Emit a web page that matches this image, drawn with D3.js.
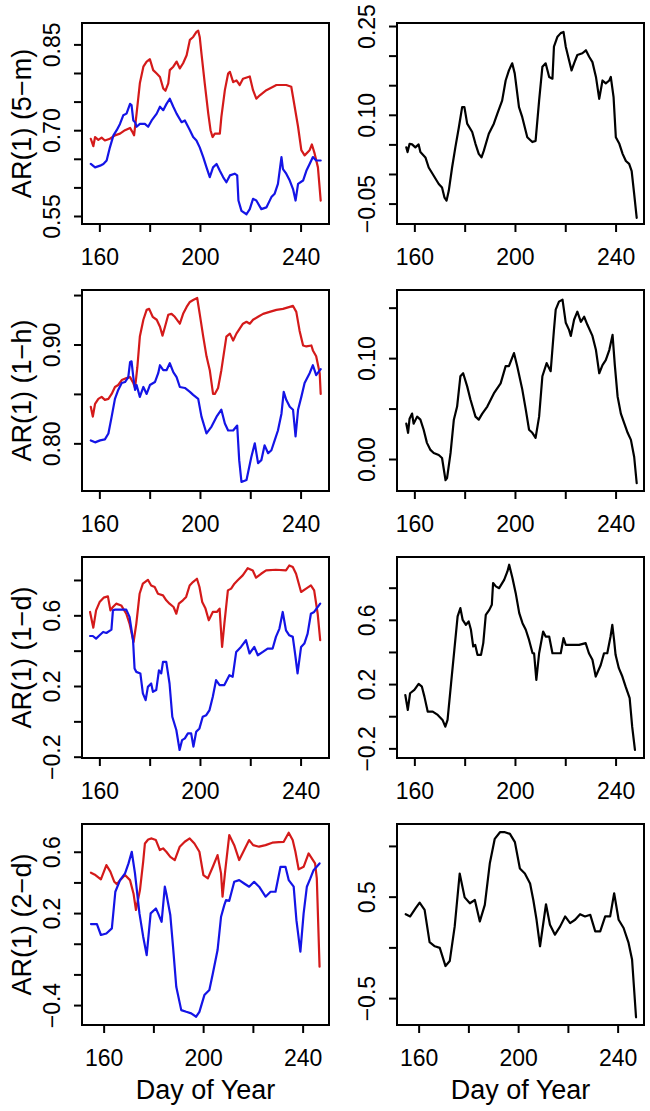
<!DOCTYPE html>
<html><head><meta charset="utf-8">
<script src="https://cdn.jsdelivr.net/npm/d3@7"></script>
<style>
body{margin:0;background:#fff;}
svg{display:block;}
text{font-family:"Liberation Sans",Arial,Helvetica,sans-serif;fill:#000;}
</style>
</head><body>
<svg id="chart" width="650" height="1111"></svg>
<script>
// ---------- DATA (day of year, AR(1) value) ----------
const xTicks = [160, 180, 200, 220, 240];
const xTickLabels = [160, 200, 240];

const ar5mRed = [[156.6,0.685],[157.6,0.672],[158.3,0.688],[159.6,0.683],[160.9,0.687],[162.2,0.682],[164.2,0.685],[166.2,0.691],[168.2,0.694],[170.2,0.700],[172.2,0.704],[173.0,0.698],[173.8,0.691],[174.8,0.729],[176.1,0.782],[177.5,0.811],[178.8,0.820],[180.1,0.824],[181.4,0.805],[182.8,0.799],[184.1,0.793],[185.4,0.773],[186.3,0.769],[187.4,0.782],[188.0,0.805],[189.4,0.811],[190.7,0.820],[192.0,0.808],[193.3,0.817],[194.7,0.831],[196.0,0.858],[197.3,0.863],[198.6,0.872],[199.3,0.874],[199.9,0.863],[200.6,0.834],[201.9,0.782],[203.3,0.729],[204.2,0.700],[205.0,0.688],[205.9,0.694],[207.9,0.694],[208.5,0.723],[209.9,0.770],[211.2,0.799],[211.9,0.802],[213.2,0.784],[214.5,0.787],[215.8,0.779],[217.1,0.790],[219.8,0.794],[221.1,0.770],[222.4,0.755],[223.8,0.761],[226.4,0.770],[230.4,0.779],[234.3,0.779],[236.3,0.776],[237.0,0.758],[239.0,0.706],[240.3,0.665],[241.6,0.656],[243.6,0.665],[244.5,0.675],[245.6,0.659],[246.9,0.635],[248.0,0.577]];
const ar5mBlue = [[156.6,0.641],[158.3,0.635],[160.3,0.638],[161.6,0.641],[162.9,0.647],[164.2,0.670],[165.6,0.691],[166.9,0.700],[168.2,0.711],[169.5,0.726],[170.8,0.729],[172.2,0.746],[172.8,0.744],[173.5,0.717],[174.2,0.714],[174.8,0.706],[176.1,0.711],[178.1,0.711],[179.4,0.706],[180.8,0.717],[182.8,0.729],[184.1,0.741],[185.4,0.735],[186.7,0.746],[188.0,0.755],[189.4,0.741],[190.7,0.729],[192.7,0.714],[194.0,0.717],[196.0,0.700],[197.3,0.688],[198.6,0.682],[199.9,0.670],[201.3,0.653],[202.6,0.635],[203.9,0.618],[205.2,0.635],[206.6,0.641],[207.9,0.629],[209.2,0.618],[210.5,0.609],[211.9,0.621],[213.8,0.624],[214.8,0.621],[215.3,0.577],[216.5,0.559],[218.5,0.553],[219.8,0.562],[221.1,0.580],[222.4,0.577],[224.4,0.562],[226.4,0.565],[228.4,0.583],[229.7,0.589],[231.0,0.606],[232.4,0.653],[233.0,0.632],[234.3,0.624],[235.7,0.612],[237.0,0.597],[238.0,0.577],[239.0,0.606],[241.0,0.612],[242.3,0.629],[243.6,0.641],[244.9,0.653],[246.2,0.647],[248.0,0.647]];
const ar5mDiff = [[156.8,0.045],[157.3,0.037],[158.1,0.051],[159.1,0.050],[160.4,0.045],[161.7,0.050],[162.4,0.037],[164.4,0.028],[165.7,0.011],[167.7,-0.003],[169.7,-0.017],[171.0,-0.023],[172.0,-0.040],[172.8,-0.045],[173.7,-0.028],[175.0,0.011],[176.3,0.045],[177.7,0.079],[179.0,0.113],[179.9,0.113],[181.0,0.085],[183.0,0.071],[184.3,0.051],[185.6,0.034],[186.7,0.028],[187.6,0.039],[189.6,0.068],[191.6,0.085],[193.0,0.102],[194.9,0.124],[196.3,0.158],[197.6,0.175],[198.9,0.187],[199.9,0.170],[201.6,0.113],[202.9,0.096],[204.9,0.062],[206.9,0.054],[208.2,0.056],[209.6,0.124],[210.9,0.181],[212.2,0.187],[213.6,0.164],[214.9,0.161],[215.5,0.215],[216.9,0.232],[218.2,0.238],[219.3,0.240],[220.2,0.215],[221.5,0.192],[222.5,0.175],[223.5,0.187],[224.8,0.201],[226.8,0.204],[228.2,0.209],[229.5,0.198],[230.8,0.189],[232.2,0.164],[233.5,0.127],[234.8,0.158],[236.1,0.153],[237.5,0.158],[238.1,0.164],[239.2,0.130],[240.1,0.062],[241.5,0.051],[242.8,0.034],[244.1,0.022],[245.4,0.017],[246.4,0.005],[247.4,-0.034],[248.4,-0.074]];

const ar1hRed = [[156.6,0.837],[157.4,0.827],[158.3,0.840],[159.6,0.845],[160.9,0.847],[162.2,0.844],[163.6,0.845],[164.9,0.850],[166.2,0.857],[167.5,0.859],[168.9,0.864],[170.8,0.866],[172.2,0.867],[173.5,0.861],[174.2,0.856],[175.1,0.877],[176.1,0.908],[177.5,0.925],[178.8,0.935],[179.8,0.936],[181.2,0.928],[182.8,0.925],[184.1,0.918],[185.1,0.909],[186.1,0.918],[187.4,0.930],[188.7,0.931],[190.0,0.928],[192.0,0.921],[193.3,0.931],[194.7,0.938],[196.0,0.943],[197.3,0.945],[198.9,0.947],[199.9,0.931],[201.3,0.908],[202.6,0.888],[203.9,0.874],[205.2,0.850],[205.9,0.850],[207.2,0.856],[208.5,0.874],[210.5,0.908],[211.9,0.911],[213.2,0.904],[214.5,0.911],[215.8,0.916],[217.1,0.921],[218.5,0.923],[219.8,0.921],[221.1,0.925],[223.1,0.928],[225.1,0.931],[227.7,0.933],[230.4,0.935],[233.0,0.936],[235.7,0.938],[237.0,0.939],[238.3,0.933],[239.6,0.914],[241.0,0.899],[242.3,0.898],[244.3,0.899],[244.9,0.894],[246.2,0.888],[247.6,0.871],[248.0,0.850]];
const ar1hBlue = [[156.6,0.803],[158.3,0.801],[160.3,0.803],[162.2,0.804],[163.6,0.810],[164.9,0.827],[166.2,0.845],[167.5,0.854],[168.9,0.861],[170.2,0.862],[171.5,0.867],[172.2,0.882],[172.8,0.883],[173.5,0.867],[174.2,0.854],[174.8,0.859],[176.1,0.847],[177.5,0.857],[178.8,0.850],[180.1,0.859],[182.1,0.862],[183.4,0.871],[184.1,0.879],[185.4,0.874],[186.7,0.874],[188.0,0.881],[189.4,0.872],[190.7,0.867],[192.0,0.857],[194.0,0.856],[196.0,0.852],[197.3,0.849],[199.3,0.845],[200.6,0.827],[202.6,0.810],[204.6,0.817],[206.6,0.827],[208.5,0.834],[209.9,0.820],[211.2,0.813],[213.2,0.813],[214.8,0.818],[215.6,0.783],[216.5,0.761],[218.5,0.763],[220.4,0.786],[221.8,0.800],[223.1,0.780],[224.4,0.783],[225.7,0.798],[227.1,0.790],[228.4,0.793],[229.7,0.803],[231.0,0.813],[232.4,0.830],[233.3,0.852],[234.3,0.844],[235.7,0.837],[237.0,0.834],[238.0,0.807],[239.0,0.834],[240.3,0.847],[241.6,0.861],[243.6,0.871],[244.9,0.879],[246.2,0.869],[248.0,0.875]];
const ar1hDiff = [[156.8,0.035],[157.5,0.026],[158.1,0.040],[159.1,0.045],[159.7,0.035],[161.1,0.042],[162.4,0.039],[163.7,0.029],[165.0,0.016],[166.4,0.009],[167.7,0.006],[169.7,0.004],[171.0,0.001],[172.4,-0.021],[173.0,-0.019],[174.4,0.006],[175.7,0.039],[177.0,0.052],[178.3,0.082],[179.4,0.085],[181.0,0.072],[182.3,0.059],[184.3,0.042],[185.6,0.039],[187.0,0.045],[189.0,0.052],[191.6,0.065],[194.3,0.075],[196.3,0.092],[197.6,0.092],[199.6,0.105],[200.9,0.092],[202.9,0.069],[204.3,0.049],[205.6,0.029],[206.9,0.026],[208.2,0.021],[209.6,0.042],[210.9,0.082],[212.6,0.095],[214.2,0.087],[215.5,0.128],[216.2,0.148],[217.5,0.156],[218.9,0.158],[220.2,0.135],[221.5,0.128],[222.2,0.122],[223.5,0.138],[224.8,0.146],[226.2,0.136],[227.5,0.141],[228.8,0.133],[230.8,0.122],[232.2,0.108],[233.5,0.085],[234.8,0.093],[236.1,0.098],[237.5,0.108],[238.8,0.123],[239.7,0.093],[240.8,0.062],[242.1,0.045],[243.5,0.035],[244.8,0.026],[246.1,0.019],[247.4,0.002],[248.4,-0.024]];

const ar1dRed = [[156.3,0.619],[157.6,0.530],[158.7,0.628],[160.1,0.675],[161.7,0.700],[163.4,0.707],[164.4,0.628],[165.4,0.647],[166.7,0.666],[168.7,0.656],[170.7,0.609],[172.0,0.553],[173.6,0.449],[174.7,0.553],[176.0,0.722],[177.3,0.779],[179.3,0.801],[180.6,0.769],[182.0,0.760],[183.3,0.722],[185.3,0.713],[186.6,0.685],[187.9,0.666],[189.5,0.647],[190.6,0.609],[191.6,0.666],[193.2,0.685],[194.5,0.704],[195.9,0.769],[197.2,0.788],[198.8,0.807],[199.8,0.760],[200.9,0.675],[202.2,0.638],[203.5,0.572],[205.1,0.619],[206.7,0.619],[207.8,0.638],[208.8,0.421],[209.7,0.553],[211.1,0.741],[212.4,0.751],[213.7,0.779],[215.0,0.798],[217.0,0.826],[219.0,0.867],[221.0,0.854],[222.3,0.813],[224.3,0.835],[226.3,0.854],[230.2,0.858],[234.2,0.854],[235.5,0.882],[236.9,0.873],[238.2,0.835],[240.2,0.732],[242.2,0.751],[244.1,0.769],[245.4,0.741],[246.8,0.609],[247.8,0.459]];
const ar1dBlue = [[156.3,0.483],[157.4,0.483],[158.7,0.468],[160.1,0.487],[161.5,0.506],[162.8,0.500],[164.8,0.519],[165.4,0.628],[166.1,0.632],[168.1,0.632],[170.7,0.632],[172.0,0.591],[173.4,0.459],[174.0,0.299],[174.7,0.280],[176.3,0.271],[177.3,0.158],[178.4,0.120],[179.3,0.195],[180.6,0.214],[181.3,0.167],[182.6,0.177],[183.7,0.289],[184.6,0.271],[185.3,0.337],[186.6,0.337],[187.9,0.214],[189.0,0.026],[190.6,-0.049],[191.9,-0.162],[192.9,-0.106],[194.0,-0.096],[195.2,-0.068],[196.5,-0.068],[197.4,-0.143],[198.5,-0.059],[199.8,-0.040],[201.1,0.026],[202.5,0.035],[203.8,0.064],[205.1,0.139],[206.4,0.233],[207.8,0.205],[209.7,0.205],[211.7,0.261],[213.0,0.252],[214.4,0.393],[216.3,0.421],[218.3,0.459],[219.7,0.384],[221.6,0.421],[223.0,0.374],[225.0,0.393],[226.9,0.412],[228.9,0.412],[230.2,0.478],[231.6,0.525],[232.9,0.619],[234.2,0.515],[235.5,0.487],[236.9,0.478],[237.9,0.374],[238.8,0.271],[240.2,0.421],[241.5,0.440],[242.8,0.496],[244.1,0.609],[245.4,0.619],[247.8,0.666]];
const ar1dDiff = [[156.4,0.132],[157.4,0.039],[158.3,0.143],[160.0,0.164],[161.7,0.201],[163.0,0.184],[164.0,0.122],[165.3,0.029],[167.3,0.029],[169.3,0.008],[171.2,-0.023],[172.3,-0.065],[173.2,-0.023],[174.6,0.205],[175.9,0.413],[177.2,0.621],[178.3,0.673],[179.2,0.600],[180.5,0.569],[181.6,0.590],[182.5,0.538],[183.4,0.434],[184.2,0.444],[185.1,0.382],[186.5,0.382],[187.4,0.455],[188.4,0.631],[189.8,0.662],[190.8,0.694],[191.3,0.829],[192.4,0.808],[193.7,0.797],[195.7,0.849],[197.0,0.901],[197.7,0.943],[199.0,0.860],[200.3,0.766],[201.7,0.642],[203.0,0.579],[204.3,0.538],[205.6,0.475],[207.0,0.392],[207.6,0.392],[208.5,0.226],[209.6,0.392],[211.2,0.527],[212.2,0.496],[213.6,0.496],[214.9,0.392],[216.5,0.392],[218.2,0.392],[219.3,0.486],[220.2,0.444],[222.8,0.444],[225.5,0.444],[228.1,0.455],[229.4,0.392],[230.8,0.351],[232.1,0.247],[234.1,0.319],[235.4,0.392],[236.7,0.392],[238.0,0.496],[238.7,0.569],[239.4,0.475],[240.0,0.382],[241.3,0.299],[242.7,0.247],[244.0,0.184],[245.6,0.112],[246.6,-0.065],[247.7,-0.210]];

const ar2dRed = [[154.9,0.463],[156.7,0.448],[158.9,0.420],[161.1,0.513],[162.7,0.470],[164.3,0.404],[165.3,0.389],[166.6,0.415],[168.6,0.448],[170.6,0.415],[172.0,0.328],[173.0,0.220],[174.6,0.350],[175.9,0.535],[176.6,0.654],[177.9,0.680],[179.3,0.687],[181.0,0.676],[182.6,0.611],[183.9,0.622],[185.2,0.600],[186.8,0.567],[188.6,0.546],[190.6,0.633],[192.6,0.665],[194.6,0.687],[196.5,0.654],[198.5,0.600],[200.1,0.448],[201.9,0.426],[203.9,0.502],[205.8,0.578],[207.2,0.459],[207.8,0.307],[208.9,0.480],[210.5,0.709],[212.5,0.643],[214.5,0.546],[216.5,0.611],[218.5,0.676],[220.1,0.643],[222.5,0.633],[225.1,0.643],[227.8,0.659],[230.4,0.663],[232.4,0.665],[234.4,0.724],[236.0,0.676],[237.1,0.600],[238.4,0.485],[240.4,0.502],[242.4,0.589],[243.7,0.557],[245.0,0.524],[245.7,0.426],[246.8,-0.150]];
const ar2dBlue = [[154.9,0.128],[157.3,0.128],[158.9,0.057],[161.1,0.067],[163.3,0.100],[164.7,0.339],[166.6,0.415],[168.6,0.459],[170.0,0.524],[171.3,0.600],[172.6,0.459],[174.4,0.198],[175.9,0.046],[177.3,-0.074],[178.9,0.198],[181.0,0.230],[181.9,0.198],[183.3,0.143],[184.6,0.372],[185.2,0.328],[186.8,0.187],[187.9,-0.020],[189.2,-0.281],[191.2,-0.433],[193.2,-0.444],[195.2,-0.454],[197.2,-0.476],[198.5,-0.444],[200.5,-0.335],[202.5,-0.302],[203.9,-0.194],[205.8,-0.041],[207.2,0.176],[208.5,0.252],[209.2,0.285],[210.5,0.280],[212.5,0.404],[214.5,0.415],[216.5,0.393],[218.5,0.372],[220.5,0.404],[222.5,0.372],[225.1,0.307],[227.1,0.339],[229.1,0.339],[231.1,0.502],[233.1,0.502],[234.4,0.415],[236.4,0.372],[237.5,0.154],[239.1,-0.052],[240.4,0.198],[241.7,0.372],[243.1,0.426],[244.4,0.480],[246.8,0.524]];
const ar2dDiff = [[154.8,0.327],[156.6,0.305],[158.8,0.386],[160.4,0.441],[162.4,0.370],[164.4,0.051],[166.5,0.011],[168.5,-0.005],[170.8,-0.184],[172.5,-0.135],[174.5,0.207],[176.5,0.728],[178.5,0.493],[180.6,0.435],[182.6,0.467],[184.6,0.256],[186.6,0.419],[188.6,0.826],[190.6,1.070],[192.7,1.135],[194.7,1.135],[196.7,1.119],[198.7,1.037],[200.7,0.777],[202.7,0.728],[204.8,0.630],[206.1,0.467],[207.4,0.272],[208.8,0.011],[211.2,0.425],[212.8,0.223],[214.8,0.125],[216.9,0.207],[218.9,0.305],[220.9,0.239],[222.9,0.272],[224.9,0.327],[226.9,0.305],[229.0,0.321],[231.0,0.158],[233.0,0.158],[235.0,0.305],[237.0,0.305],[238.6,0.533],[240.4,0.272],[242.4,0.191],[244.4,0.044],[245.8,-0.119],[247.4,-0.689]];

const yLabels = ["AR(1) (5\u2212m)", "AR(1) (1\u2212h)", "AR(1) (1\u2212d)", "AR(1) (2\u2212d)"];
const xLabel = "Day of Year";

// ---------- LAYOUT ----------
const RED = "#d41a1a", BLUE = "#1414e6", BLACK = "#000";
const colLeft = [82, 397], boxW = 247;
const rowTop = [23, 290, 557, 824], boxH = 201;
const xDomTop = [153.1, 251.3], xDomBottom = [151.3, 250.6];

const panels = [
  {row:0,col:0,series:[[ar5mRed,RED],[ar5mBlue,BLUE]],yDom:[0.536,0.8874],yTicks:[0.55,0.60,0.65,0.70,0.75,0.80,0.85],yLab:[0.55,0.70,0.85],fmt:".2f"},
  {row:0,col:1,series:[[ar5mDiff,BLACK]],yDom:[-0.0845,0.2551],yTicks:[-0.05,0,0.05,0.10,0.15,0.20,0.25],yLab:[-0.05,0.10,0.25],fmt:".2f"},
  {row:1,col:0,series:[[ar1hRed,RED],[ar1hBlue,BLUE]],yDom:[0.7518,0.9551],yTicks:[0.80,0.85,0.90,0.95],yLab:[0.80,0.90],fmt:".2f"},
  {row:1,col:1,series:[[ar1hDiff,BLACK]],yDom:[-0.0317,0.1675],yTicks:[0,0.05,0.10,0.15],yLab:[0,0.10],fmt:".2f"},
  {row:2,col:0,series:[[ar1dRed,RED],[ar1dBlue,BLUE]],yDom:[-0.2074,0.930],yTicks:[-0.2,0,0.2,0.4,0.6,0.8],yLab:[-0.2,0.2,0.6],fmt:".1f"},
  {row:2,col:1,series:[[ar1dDiff,BLACK]],yDom:[-0.260,0.991],yTicks:[-0.2,0,0.2,0.4,0.6,0.8],yLab:[-0.2,0.2,0.6],fmt:".1f"},
  {row:3,col:0,series:[[ar2dRed,RED],[ar2dBlue,BLUE]],yDom:[-0.530,0.781],yTicks:[-0.4,-0.2,0,0.2,0.4,0.6],yLab:[-0.4,0.2,0.6],fmt:".1f"},
  {row:3,col:1,series:[[ar2dDiff,BLACK]],yDom:[-0.765,1.216],yTicks:[-0.5,0,0.5,1.0],yLab:[-0.5,0.5],fmt:".1f"}
];

const svg = d3.select("#chart");
svg.append("rect").attr("width",650).attr("height",1111).attr("fill","#fff");

const TICK_FS = 23, LAB_FS = 27;

panels.forEach(p => {
  const x0 = colLeft[p.col], y0 = rowTop[p.row];
  const x = d3.scaleLinear().domain(p.row === 3 ? xDomBottom : xDomTop).range([x0, x0 + boxW]);
  const y = d3.scaleLinear().domain(p.yDom).range([y0 + boxH, y0]);
  const g = svg.append("g");

  p.series.forEach(([data, color]) => {
    g.append("path").datum(data)
      .attr("fill","none").attr("stroke",color).attr("stroke-width",2.2)
      .attr("stroke-linejoin","round").attr("stroke-linecap","round")
      .attr("d", d3.line().x(d => x(d[0])).y(d => y(d[1])));
  });

  g.append("rect").attr("x",x0).attr("y",y0).attr("width",boxW).attr("height",boxH)
    .attr("fill","none").attr("stroke","#000").attr("stroke-width",2);

  // x axis
  const xa = g.append("g").attr("transform",`translate(0,${y0 + boxH})`)
    .call(d3.axisBottom(x).tickValues(xTicks).tickSize(8)
      .tickFormat(d => xTickLabels.includes(d) ? String(d) : ""));
  xa.attr("font-size",null).attr("font-family",null);
  xa.select(".domain").remove();
  xa.selectAll(".tick line").attr("stroke","#000").attr("stroke-width",2);
  xa.selectAll(".tick text").attr("y",41).attr("dy",null)
    .style("font-size",TICK_FS+"px").attr("fill","#000");

  // y axis
  const f = d3.format(p.fmt);
  const isLab = d => p.yLab.some(v => Math.abs(v - d) < 1e-9);
  const ya = g.append("g").attr("transform",`translate(${x0},0)`)
    .call(d3.axisLeft(y).tickValues(p.yTicks).tickSize(8)
      .tickFormat(d => isLab(d) ? f(d) : ""));
  ya.attr("font-size",null).attr("font-family",null);
  ya.select(".domain").remove();
  ya.selectAll(".tick line").attr("stroke","#000").attr("stroke-width",2);
  ya.selectAll(".tick text").attr("x",null).attr("dy",null)
    .attr("transform","translate(-22,0) rotate(-90)")
    .attr("text-anchor","middle")
    .style("font-size",TICK_FS+"px").attr("fill","#000");

  if (p.col === 0) {
    g.append("text")
      .attr("transform",`translate(31,${y0 + boxH/2}) rotate(-90)`)
      .attr("text-anchor","middle").style("font-size",LAB_FS+"px")
      .text(yLabels[p.row]);
  }
  if (p.row === 3) {
    g.append("text").attr("x", x0 + boxW/2).attr("y", 1099)
      .attr("text-anchor","middle").style("font-size",LAB_FS+"px")
      .text(xLabel);
  }
});
</script>
</body></html>
